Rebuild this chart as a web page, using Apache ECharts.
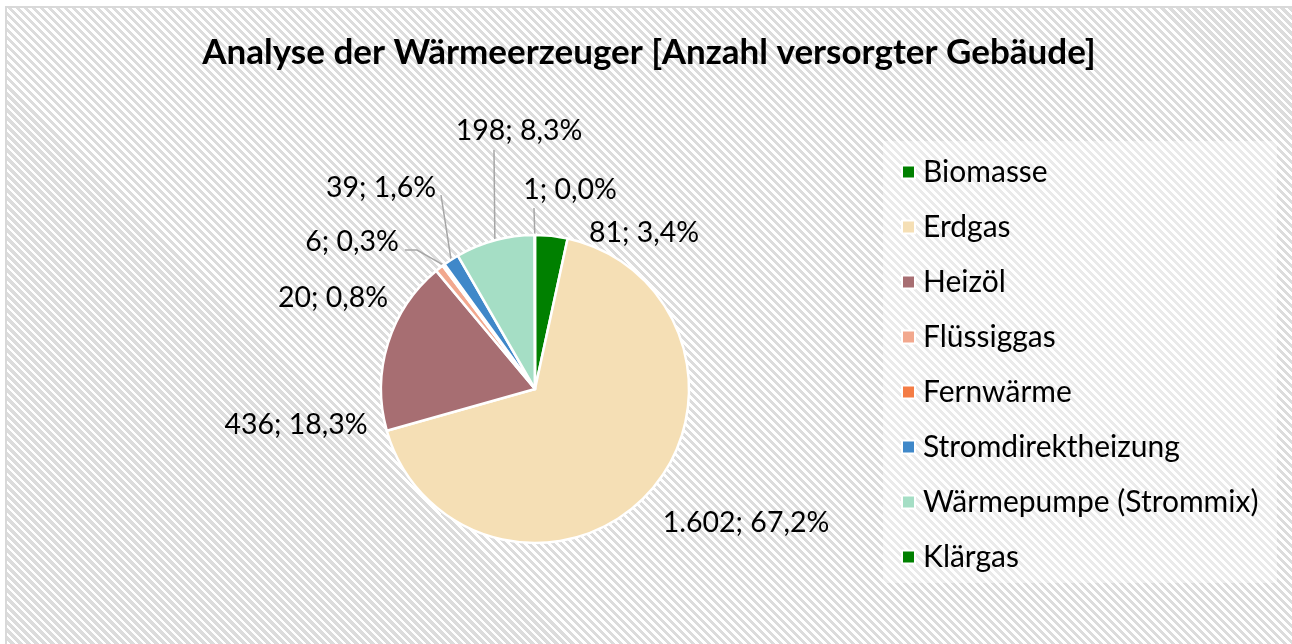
<!DOCTYPE html>
<html>
<head>
<meta charset="utf-8">
<script src="https://cdn.jsdelivr.net/npm/echarts@6/dist/echarts.min.js"></script>
<style>
html,body{margin:0;padding:0;overflow:hidden;background:#fff;}
#bg{position:absolute;left:5px;top:6px;width:1300px;height:660px;border-left:2px solid #d9d9d9;border-top:2px solid #d9d9d9;
background:repeating-linear-gradient(45deg,#ffffff 0px,#ffffff 2.6px,#dcdcdc 2.6px,#dcdcdc 5.66px);}
#chart{position:absolute;left:0;top:0;width:1292px;height:644px;}
</style>
</head>
<body>
<div id="bg"></div>
<div id="chart"></div>
<script>
// ---- data ----
const titleText = 'Analyse der Wärmeerzeuger [Anzahl versorgter Gebäude]';
const categories = ['Biomasse', 'Erdgas', 'Heizöl', 'Flüssiggas', 'Fernwärme', 'Stromdirektheizung', 'Wärmepumpe (Strommix)', 'Klärgas'];
const values = [81, 1602, 436, 20, 6, 39, 198, 1];

// ---- styles / layout ----
const colors = ['#008000', '#F5DFB5', '#A76E72', '#F2A88E', '#F47C45', '#3F88C9', '#A5DEC5', '#008000'];
const CX = 535, CY = 389, R = 154;
const labelPos = [[644, 233], [746, 523], [296, 425], [333, 298], [352, 242], [381, 188], [519, 131], [570, 190]];
const lineEnds = { 4: [[417, 250], [405, 250]], 5: [[441, 195]], 6: [[494, 150]], 7: [[534, 208]] };

const total = values.reduce((a, b) => a + b, 0);
const fmtInt = v => String(v).replace(/\B(?=(\d{3})+(?!\d))/g, '.');
const fmtPct = v => (v / total * 100).toFixed(1).replace('.', ',') + '%';

function edgePoint(i) {
  let cum = 0;
  for (let k = 0; k < i; k++) cum += values[k];
  const frac = (cum + values[i] / 2) / total;
  const th = (90 - 360 * frac) * Math.PI / 180;
  return [CX + R * Math.cos(th), CY - R * Math.sin(th)];
}

const chart = echarts.init(document.getElementById('chart'), null, { renderer: 'canvas' });
const FONT = 'Lato, "Noto Sans", sans-serif';

chart.setOption({
  backgroundColor: 'transparent',
  animation: false,
  color: colors,
  title: {
    text: titleText,
    left: 644,
    textAlign: 'center',
    top: 30,
    textStyle: { fontFamily: FONT, fontWeight: 'bold', fontSize: 35, color: '#000' }
  },
  graphic: [{
    type: 'rect', left: 883, top: 141, z: -1,
    shape: { width: 394, height: 442 },
    style: { fill: 'rgba(255,255,255,0.4)' }
  }],
  legend: {
    orient: 'vertical',
    left: 901,
    top: 157,
    padding: 0,
    itemWidth: 13,
    itemHeight: 13,
    itemGap: 25,
    icon: 'rect',
    data: categories,
    textStyle: { fontFamily: FONT, fontSize: 30, color: '#000', padding: [0, 0, 0, 3] }
  },
  series: [{
    type: 'pie',
    center: [CX, CY],
    radius: R,
    startAngle: 90,
    clockwise: true,
    avoidLabelOverlap: false,
    itemStyle: { borderColor: '#fff', borderWidth: 2.5 },
    label: {
      show: true,
      position: 'outside',
      fontFamily: FONT,
      fontSize: 28.5,
      color: '#000',
      formatter: p => fmtInt(values[p.dataIndex]) + '; ' + fmtPct(values[p.dataIndex])
    },
    labelLine: { show: true, lineStyle: { color: '#a6a6a6', width: 1.5 } },
    labelLayout: function (p) {
      const i = p.dataIndex;
      const res = { x: labelPos[i][0], y: labelPos[i][1], align: 'center', verticalAlign: 'middle' };
      if (lineEnds[i]) res.labelLinePoints = [edgePoint(i)].concat(lineEnds[i]);
      return res;
    },
    data: categories.map((c, i) => ({
      name: c,
      value: values[i],
      labelLine: { show: !!lineEnds[i] }
    }))
  }]
});
</script>
</body>
</html>
